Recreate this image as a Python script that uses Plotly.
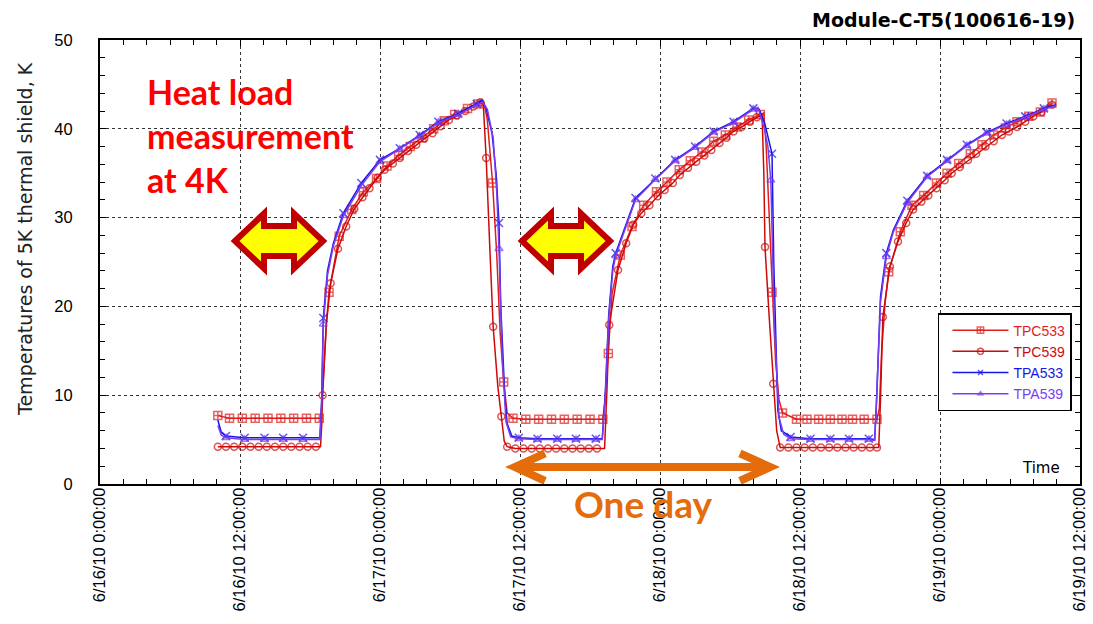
import plotly.graph_objects as go

# ---------------- data (x = hours since 6/16/10 0:00, y = K) ----------------
x_tickvals = [0, 12, 24, 36, 48, 60, 72, 84]
x_ticktext = ["6/16/10 0:00:00", "6/16/10 12:00:00", "6/17/10 0:00:00", "6/17/10 12:00:00",
              "6/18/10 0:00:00", "6/18/10 12:00:00", "6/19/10 0:00:00", "6/19/10 12:00:00"]
y_tickvals = [0, 10, 20, 30, 40, 50]

# TPC533 - sampled points that carry a marker
tpc533_t = [10.1, 11.1, 12.2, 13.3, 14.4, 15.5, 16.6, 17.7, 18.8, 19.63, 20.5, 21.57, 22.57, 23.7,
            24.6, 25.6, 26.6, 27.6, 28.6, 29.5, 30.4, 31.5, 32.4, 33.65, 34.6, 35.4, 36.5, 37.6,
            38.7, 39.8, 40.9, 42.0, 43.1, 43.57, 44.6, 45.6, 46.6, 47.7, 48.6, 49.65, 50.6, 51.6,
            52.6, 53.6, 54.6, 55.6, 56.6, 57.6, 58.5, 59.7, 60.6, 61.6, 62.6, 63.6, 64.5, 65.5,
            66.6, 67.6, 68.6, 69.6, 70.6, 71.7, 72.6, 73.6, 74.6, 75.6, 76.6, 77.6, 78.6, 79.6,
            80.6, 81.6]
tpc533_v = [7.7, 7.4, 7.4, 7.4, 7.4, 7.4, 7.4, 7.4, 7.4, 21.6, 27.9, 30.9, 32.9, 34.4,
            35.8, 37.0, 38.0, 39.0, 40.0, 40.9, 41.6, 42.3, 42.8, 33.9, 11.5, 7.4, 7.3, 7.3,
            7.3, 7.3, 7.3, 7.3, 7.3, 14.7, 25.8, 29.0, 31.4, 32.9, 34.0, 35.4, 36.4, 37.4,
            38.6, 39.3, 40.2, 41.0, 41.6, 21.6, 8.0, 7.3, 7.3, 7.3, 7.3, 7.3, 7.3, 7.3,
            7.3, 23.9, 28.4, 31.4, 32.5, 33.9, 35.0, 36.1, 37.2, 38.2, 39.3, 40.1, 40.8, 41.4,
            41.9, 42.9]
# TPC533 - intermediate logged points without marker
tpc533_t_mid = [18.95, 19.15, 19.4, 32.9, 33.2, 34.0, 34.3, 34.9, 43.3, 43.9, 56.9, 57.1, 57.35,
                57.9, 58.2, 66.8, 67.0, 67.3]
tpc533_v_mid = [7.4, 12.0, 18.0, 43.0, 41.0, 26.0, 17.0, 8.0, 9.5, 21.5, 41.8, 38.0, 30.0,
                14.0, 9.5, 8.5, 15.0, 20.5]

tpc539_t = [10.1, 10.8, 11.5, 12.2, 12.9, 13.6, 14.3, 15.0, 15.7, 16.4, 17.1, 17.8, 18.5,
            19.08, 19.77, 20.4, 21.1, 21.8, 22.5, 23.1, 23.8, 24.4, 25.1, 25.7, 26.4, 27.1, 27.8,
            28.5, 29.2, 29.9, 30.6, 31.3, 32.0, 32.6, 33.1, 33.7, 34.4, 34.9,
            35.6, 36.3, 37.0, 37.7, 38.4, 39.1, 39.8, 40.5, 41.2, 41.9, 42.6,
            43.65, 44.4, 45.1, 45.7, 46.4, 47.1, 47.8, 48.4, 49.1, 49.7, 50.4, 51.1, 51.8, 52.4,
            53.1, 53.7, 54.3, 55.0, 55.7, 56.3, 57.0, 57.7, 58.3,
            59.0, 59.7, 60.4, 61.1, 61.8, 62.5, 63.2, 63.9, 64.6, 65.3, 66.0, 66.6,
            67.1, 67.7, 68.4, 69.1, 69.7, 70.4, 71.0, 71.7, 72.4, 73.0, 73.7, 74.4, 75.1, 75.9,
            76.6, 77.3, 77.9, 78.6, 79.3, 80.0, 80.7, 81.6]
tpc539_v = [4.2, 4.2, 4.2, 4.2, 4.2, 4.2, 4.2, 4.2, 4.2, 4.2, 4.2, 4.2, 4.2,
            10.0, 22.6, 26.5, 29.0, 31.0, 32.3, 33.3, 34.5, 35.4, 36.1, 36.7, 37.5, 38.2, 38.9,
            39.5, 40.3, 41.0, 41.5, 42.0, 42.5, 43.0, 36.7, 17.7, 7.6, 4.2,
            4.0, 4.0, 4.0, 4.0, 4.0, 4.0, 4.0, 4.0, 4.0, 4.0, 4.0,
            17.9, 24.1, 27.1, 29.2, 30.5, 31.4, 32.4, 33.1, 33.9, 34.8, 35.6, 36.3, 37.0, 37.6,
            38.4, 39.0, 39.7, 40.2, 40.8, 41.3, 26.7, 11.3, 4.1,
            4.1, 4.1, 4.1, 4.1, 4.1, 4.1, 4.1, 4.1, 4.1, 4.1, 4.1, 4.1,
            18.8, 24.5, 27.3, 29.4, 30.9, 31.8, 32.5, 33.3, 34.2, 35.0, 35.7, 36.5, 37.2, 38.0,
            38.6, 39.3, 39.7, 40.2, 40.8, 41.4, 41.9, 42.7]
tpc539_t_mid = [18.9, 19.0, 19.4, 32.85, 33.4, 34.1, 34.65, 43.25, 43.45, 56.75, 56.9, 57.35,
                58.0, 66.75, 66.9]
tpc539_v_mid = [4.2, 6.5, 18.0, 42.9, 27.0, 11.0, 4.8, 4.0, 10.5, 41.6, 35.0, 19.0,
                6.0, 4.1, 9.5]

tpa533_t = [10.8, 12.4, 14.1, 15.7, 17.4, 19.14, 20.86, 22.4, 24.0, 25.7, 27.4, 29.0, 30.7,
            32.3, 34.2, 35.9, 37.5, 39.2, 40.8, 42.5, 44.2, 45.9, 47.6, 49.3, 51.0, 52.6, 54.3,
            56.0, 57.6, 59.2, 60.9, 62.6, 64.2, 65.9, 67.4, 69.2, 70.9, 72.6, 74.3, 76.0, 77.7,
            79.3, 80.9]
tpa533_v = [5.4, 5.2, 5.2, 5.2, 5.2, 18.7, 30.5, 33.9, 36.5, 37.8, 39.3, 40.8, 41.7,
            42.8, 29.4, 5.2, 5.1, 5.1, 5.1, 5.1, 26.0, 32.2, 34.4, 36.5, 38.0, 39.7, 40.8,
            42.3, 37.2, 5.3, 5.1, 5.1, 5.1, 5.1, 26.0, 31.9, 34.7, 36.5, 38.2, 39.6, 40.6,
            41.4, 42.3]
tpa533_t_mid = [10.1, 10.4, 18.85, 19.0, 19.5, 20.0, 32.75, 33.1, 33.6, 33.95, 34.35, 34.7,
                34.9, 35.3, 43.05, 43.3, 43.6, 43.95, 56.5, 57.0, 57.75, 58.1, 58.4, 66.4,
                66.55, 66.9, 68.0, 81.9]
tpa533_v_mid = [7.2, 5.8, 5.2, 9.5, 24.0, 27.1, 43.2, 42.3, 39.5, 35.0, 20.0, 9.8,
                6.8, 5.4, 5.1, 10.0, 19.0, 24.5, 42.2, 40.5, 25.0, 8.3, 6.0, 5.0,
                9.1, 21.1, 28.6, 42.7]

tpa539_t = [10.8, 12.4, 14.1, 15.7, 17.4, 19.14, 20.86, 22.4, 24.0, 25.7, 27.4, 29.0, 30.7,
            32.3, 34.2, 35.9, 37.5, 39.2, 40.8, 42.5, 44.2, 45.9, 47.6, 49.3, 51.0, 52.6, 54.3,
            56.0, 57.5, 59.2, 60.9, 62.6, 64.2, 65.9, 67.4, 69.2, 70.9, 72.6, 74.3, 76.0, 77.7,
            79.3, 80.9]
tpa539_v = [5.2, 5.0, 5.0, 5.0, 5.0, 18.0, 30.2, 33.6, 36.3, 37.7, 39.2, 40.7, 41.6,
            42.7, 26.5, 5.1, 5.0, 5.0, 5.0, 5.0, 25.7, 32.0, 34.3, 36.4, 37.9, 39.6, 40.7,
            42.2, 34.2, 5.1, 5.0, 5.0, 5.0, 5.0, 25.6, 31.7, 34.6, 36.4, 38.1, 39.5, 40.5,
            41.3, 42.2]
tpa539_t_mid = [10.1, 10.4, 18.85, 19.0, 19.5, 20.0, 32.8, 33.2, 33.7, 34.0, 34.45, 34.8,
                35.2, 43.05, 43.3, 43.6, 43.95, 56.4, 56.95, 57.25, 57.8, 58.2, 58.6, 66.4,
                66.55, 66.9, 68.0, 81.9]
tpa539_v_mid = [6.6, 5.5, 5.0, 9.0, 23.5, 26.8, 43.0, 42.2, 39.0, 33.0, 15.0, 7.0,
                5.3, 5.0, 9.5, 18.5, 24.0, 42.4, 40.0, 38.0, 18.0, 7.5, 5.6, 4.9,
                9.0, 20.5, 28.4, 42.6]

series = [
    ("TPC533", tpc533_t, tpc533_v, tpc533_t_mid, tpc533_v_mid, "#E01E1E", "square-cross-open", 8),
    ("TPC539", tpc539_t, tpc539_v, tpc539_t_mid, tpc539_v_mid, "#CC0A0A", "circle-open", 7),
    ("TPA533", tpa533_t, tpa533_v, tpa533_t_mid, tpa533_v_mid, "#1616E8", "x-thin-open", 8),
    ("TPA539", tpa539_t, tpa539_v, tpa539_t_mid, tpa539_v_mid, "#7A3CF0", "triangle-up-open", 7),
]


def merge(t_mark, v_mark, t_mid, v_mid, size):
    pts = [(t, v, size) for t, v in zip(t_mark, v_mark)] + [(t, v, 0) for t, v in zip(t_mid, v_mid)]
    pts.sort(key=lambda p: p[0])
    return [p[0] for p in pts], [p[1] for p in pts], [p[2] for p in pts]


fig = go.Figure()
for i, (name, tm, vm, tmid, vmid, color, symbol, msize) in enumerate(series):
    xs, ys, sizes = merge(tm, vm, tmid, vmid, msize)
    fig.add_trace(go.Scatter(
        x=xs, y=ys, mode="lines+markers",
        name=f"<span style='color:{color}'>{name}</span>",
        line=dict(color=color, width=1.5),
        marker=dict(symbol=symbol, size=sizes, color=color, line=dict(color=color, width=1.5)),
        legendrank=i + 1,
    ))


def double_arrow(cx, cy, half_len, head_len, head_h, shaft_h):
    xl, xr = cx - half_len, cx + half_len
    bl, br = xl + head_len, xr - head_len
    pts = [(xl, cy), (bl, cy + head_h), (bl, cy + shaft_h), (br, cy + shaft_h), (br, cy + head_h),
           (xr, cy), (br, cy - head_h), (br, cy - shaft_h), (bl, cy - shaft_h), (bl, cy - head_h)]
    return "M " + " L ".join(f"{x:.3f},{y:.3f}" for x, y in pts) + " Z"


shapes = []
for cx in (15.343, 39.943):
    shapes.append(dict(type="path", xref="x", yref="y", layer="above",
                       path=double_arrow(cx, 27.365, 3.771, 2.486, 3.097, 1.689),
                       fillcolor="#FFFF00", line=dict(color="#C00000", width=6)))

# orange "one day" arrow
ox1, ox2, oy = 35.55, 57.45, 1.914
shapes.append(dict(type="path", xref="x", yref="y", layer="above",
                   path=(f"M {ox1:.3f},{oy} L {ox2:.3f},{oy} "
                         f"M {ox1 + 2.6:.3f},3.45 L {ox1:.3f},{oy} L {ox1 + 2.6:.3f},0.35 "
                         f"M {ox2 - 2.6:.3f},3.45 L {ox2:.3f},{oy} L {ox2 - 2.6:.3f},0.35"),
                   line=dict(color="#E46C0A", width=8)))

axis_common = dict(
    showline=True, linecolor="black", linewidth=2, mirror="allticks",
    ticks="inside", ticklen=6, tickcolor="black", tickwidth=1,
    showgrid=True, gridcolor="#333333", griddash="dot", gridwidth=1,
    zeroline=False, automargin=False, ticklabeloverflow="allow",
    tickfont=dict(family="Liberation Sans, Arial, sans-serif", size=16.5, color="black"),
)

fig.update_layout(
    width=1093, height=624,
    margin=dict(l=100, r=13, t=40, b=140),
    paper_bgcolor="white", plot_bgcolor="white",
    title=dict(text="Module-C-T5(100616-19)", x=0.995, xref="paper", xanchor="right",
               y=0.968, yref="container", yanchor="middle",
               font=dict(family="DejaVu Sans, sans-serif", size=19, color="black", weight="bold")),
    xaxis=dict(range=[0, 84], tickmode="array", tickvals=x_tickvals, ticktext=x_ticktext,
               tickangle=-90, ticklabelstandoff=-5,
               minor=dict(tick0=0, dtick=2, ticks="inside", ticklen=5, tickcolor="black", showgrid=False),
               **axis_common),
    yaxis=dict(range=[0, 50], tickmode="array", tickvals=y_tickvals, ticklabelstandoff=22,
               minor=dict(tick0=0, dtick=2, ticks="inside", ticklen=5, tickcolor="black", showgrid=False),
               **axis_common),
    legend=dict(x=0.9918, xanchor="right", y=0.385, yanchor="top",
                bgcolor="white", bordercolor="black", borderwidth=1.5,
                font=dict(family="Liberation Sans, Arial, sans-serif", size=14),
                itemwidth=56, indentation=8, tracegroupgap=0),
    shapes=shapes,
    annotations=[
        dict(text="Temperatures of 5K thermal shield, K", textangle=-90, xref="paper", yref="paper",
             x=-0.0765, y=0.552, xanchor="center", yanchor="middle", showarrow=False,
             font=dict(family="DejaVu Sans, sans-serif", size=19, color="#222222")),
        dict(text="Time", xref="paper", yref="paper", x=0.960, y=0.036, xanchor="center",
             yanchor="middle", showarrow=False,
             font=dict(family="DejaVu Sans, sans-serif", size=15, color="black")),
        dict(text="Heat load<br>measurement<br>at 4K", xref="paper", yref="paper", x=0.046,
             y=0.784, xanchor="left", yanchor="middle", align="left", showarrow=False,
             font=dict(family="Lato, sans-serif", size=34, color="#FF0000", weight="bold")),
        dict(text="One day", xref="paper", yref="paper", x=0.554, y=-0.045, xanchor="center",
             yanchor="middle", showarrow=False,
             font=dict(family="Lato, sans-serif", size=37, color="#E46C0A", weight="bold")),
    ],
)

# remove the browser's default 8px page margin so the 1093x624 figure fills the window exactly
fig.write_html("out.html",
               config={"displayModeBar": False},
               post_script="document.body.style.margin='0px';document.body.style.overflow='hidden';")
